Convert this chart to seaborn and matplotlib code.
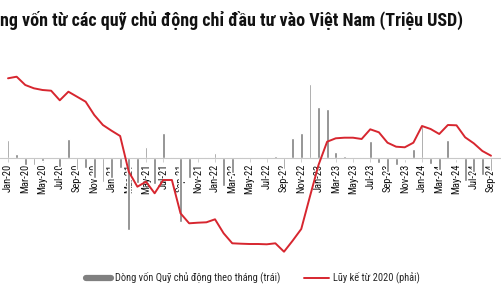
import numpy as np
import pandas as pd
import matplotlib
matplotlib.use("Agg")
import matplotlib.pyplot as plt
from matplotlib import font_manager as fm
from matplotlib.lines import Line2D
import seaborn as sns

months = ["Jan-20","Feb-20","Mar-20","Apr-20","May-20","Jun-20","Jul-20","Aug-20","Sep-20","Oct-20","Nov-20","Dec-20",
          "Jan-21","Feb-21","Mar-21","Apr-21","May-21","Jun-21","Jul-21","Aug-21","Sep-21","Oct-21","Nov-21","Dec-21",
          "Jan-22","Feb-22","Mar-22","Apr-22","May-22","Jun-22","Jul-22","Aug-22","Sep-22","Oct-22","Nov-22","Dec-22",
          "Jan-23","Feb-23","Mar-23","Apr-23","May-23","Jun-23","Jul-23","Aug-23","Sep-23","Oct-23","Nov-23","Dec-23",
          "Jan-24","Feb-24","Mar-24","Apr-24","May-24","Jun-24","Jul-24","Aug-24","Sep-24"]
monthly_flow = [72, 16, -28, -28, -12, -6, -36, 74, -48, -40, -80, -96,
                -80, -40, -290, -100, 44, -104, 98, 4, -256, -80, 2, 1,
                20, -112, -60, 1, -1, 1, 2, 6, -44, 80, 100, 294,
                202, 196, 24, 6, 1, 2, 68, -20, -56, -30, -4, 36,
                128, -24, -48, 70, -4, -92, -56, -70, -52]
cumulative = [792, 808, 725, 692, 675, 668, 572, 658, 608, 558, 425, 325,
              268, 215, -142, -292, -242, -358, -225, -225, -558, -658, -652, -648,
              -618, -758, -858, -862, -865, -865, -868, -858, -942, -832, -715, -392,
              -75, 158, 192, 198, 198, 185, 282, 252, 148, 108, 102, 148,
              315, 285, 235, 325, 322, 202, 142, 65, 18]

title = "ng vốn từ các quỹ chủ động chỉ đầu tư vào Việt Nam (Triệu USD)"
bar_label = "Dòng vốn Quỹ chủ động theo tháng (trái)"
line_label = "Lũy kế từ 2020 (phải)"

sns.set_theme(style="white")
available = {f.name for f in fm.fontManager.ttflist}
prefs = ["Arial Narrow", "Liberation Sans Narrow", "Roboto Condensed", "Archivo Narrow",
         "Fira Sans Condensed", "Barlow Semi Condensed", "IBM Plex Sans Condensed",
         "Roboto", "Liberation Sans"]
chosen = [p for p in prefs if p in available]
narrow = chosen[:1] + ["DejaVu Sans"]
plt.rcParams["font.family"] = narrow

df = pd.DataFrame({"month": months, "flow": monthly_flow, "cum": cumulative,
                   "idx": np.arange(len(months))})

fig = plt.figure(figsize=(5.01, 3.0), dpi=100)
renderer = fig.canvas.get_renderer()


def fit_size(text, target_px, weight="normal", base=10.0):
    t = fig.text(0, 0, text, fontsize=base, fontweight=weight)
    w = t.get_window_extent(renderer=renderer).width
    t.remove()
    return base * target_px / w


ax = fig.add_axes([0, 1 - 260 / 300, 1, 220 / 300])
bar_color = "#808080"
red = "#d7262f"

sns.barplot(data=df, x="month", y="flow", color=bar_color, width=0.32, ax=ax,
            saturation=1, order=months)
ax2 = ax.twinx()
sns.lineplot(data=df, x="idx", y="cum", color=red, linewidth=1.4, ax=ax2)

ax.set_xlim(-0.93, 57.16)
ax.set_ylim(-410, 470)
ax2.set_ylim(-1025, 1175)

for a in (ax, ax2):
    a.set_xlabel("")
    a.set_ylabel("")
    a.set_yticks([])
    for s in ("left", "right", "top"):
        a.spines[s].set_visible(False)
ax2.spines["bottom"].set_visible(False)
ax.spines["bottom"].set_position(("data", 0))
ax.spines["bottom"].set_color("#c8c8c8")
ax.spines["bottom"].set_linewidth(0.8)

tick_fs = min(fit_size("Jan-20", 28), 8.5)
ticks = list(range(0, len(months), 2))
ax.set_xticks(ticks)
ax.set_xticklabels([months[i] for i in ticks], rotation=90, fontsize=tick_fs,
                   color="#111111")
ax.tick_params(axis="x", which="major", length=3, width=0.6, color="#c8c8c8",
               pad=1.5, bottom=True)

title_fs = min(fit_size(title, 469, weight="bold"), 13)
fig.text(0, 1 - 20.5 / 300, title, ha="left", va="center",
         fontsize=title_fs, fontweight="bold", color="#111111")

leg_fs = min(fit_size(bar_label, 165), 8.5)
fs_px = leg_fs * 100 / 72
handles = [Line2D([0], [0], color=bar_color, lw=4.5),
           Line2D([0], [0], color=red, lw=1.4)]
fig.legend(handles, [bar_label, line_label], loc="center left",
           bbox_to_anchor=(86 / 501, 1 - 278 / 300), ncol=2, frameon=False,
           fontsize=leg_fs, handlelength=25 / fs_px, handletextpad=4 / fs_px,
           columnspacing=24 / fs_px, borderpad=0, borderaxespad=0)

fig.savefig("out.png", dpi=100)
